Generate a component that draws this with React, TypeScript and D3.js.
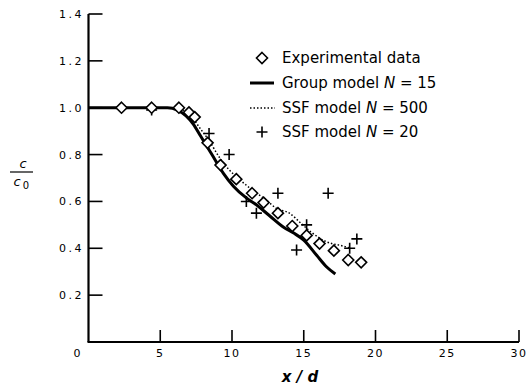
import React from "react";
import * as d3 from "d3";

const xTicks = [5, 10, 15, 20, 25, 30];
const xTickLabels = ["5", "10", "15", "20", "25", "30"];
const yTicks = [0.2, 0.4, 0.6, 0.8, 1.0, 1.2, 1.4];
const yTickLabels = ["0.2", "0.4", "0.6", "0.8", "1.0", "1.2", "1.4"];

const experimentalX = [2.3, 4.4, 6.3, 7.0, 7.4, 8.3, 9.2, 10.3, 11.4, 12.2, 13.2, 14.2, 15.2, 16.1, 17.1, 18.1, 19.0];
const experimentalY = [1.0, 1.0, 1.0, 0.98, 0.96, 0.85, 0.755, 0.695, 0.635, 0.595, 0.55, 0.495, 0.455, 0.42, 0.39, 0.35, 0.34];

const groupX = [0, 5.5, 6.2, 6.8, 7.3, 7.8, 8.6, 9.4, 10.1, 11.0, 11.6, 12.6, 13.6, 14.3, 15.0, 15.9, 16.6, 17.2];
const groupY = [1.0, 1.0, 0.99, 0.965, 0.93, 0.88, 0.8, 0.72, 0.665, 0.615, 0.59, 0.54, 0.49, 0.465, 0.435, 0.37, 0.32, 0.29];

const ssf500X = [0, 6.0, 6.6, 7.2, 7.8, 8.4, 9.1, 9.8, 10.5, 11.5, 12.4, 13.1, 14.0, 14.75, 15.5, 16.5, 17.7, 18.3];
const ssf500Y = [1.0, 1.0, 0.99, 0.96, 0.91, 0.86, 0.79, 0.735, 0.695, 0.645, 0.605, 0.57, 0.55, 0.51, 0.47, 0.43, 0.41, 0.4];

const ssf20X = [4.4, 6.3, 8.4, 9.8, 11.0, 11.7, 13.2, 14.5, 15.2, 16.7, 18.2, 18.7];
const ssf20Y = [0.99, 1.0, 0.89, 0.8, 0.6, 0.55, 0.635, 0.393, 0.5, 0.635, 0.4, 0.44];

const legendLabels = ["Experimental data", "Group model ", "SSF model ", "SSF model "];
const legendN = ["", "15", "500", "20"];

const W = 527;
const H = 385;

export default function App() {
  const x = d3.scaleLinear().domain([0, 30]).range([88.5, 519]);
  const y = d3.scaleLinear().domain([0, 1.4]).range([342, 14]);

  const line = d3
    .line<[number, number]>()
    .x((d) => x(d[0]))
    .y((d) => y(d[1]))
    .curve(d3.curveMonotoneX);

  const groupData = groupX.map((v, i) => [v, groupY[i]] as [number, number]);
  const ssfData = ssf500X.map((v, i) => [v, ssf500Y[i]] as [number, number]);

  const diamond = (cx: number, cy: number, r: number) =>
    `M${cx},${cy - r}L${cx + r},${cy}L${cx},${cy + r}L${cx - r},${cy}Z`;
  const cross = (cx: number, cy: number, r: number) =>
    `M${cx - r},${cy}L${cx + r},${cy}M${cx},${cy - r}L${cx},${cy + r}`;

  const font = "'DejaVu Sans', sans-serif";
  const legendY = [58, 83, 108, 132];
  const lx = 262;
  const tx = 282;

  return (
    <svg
      width={W}
      height={H}
      style={{ position: "absolute", left: 0, top: 0, background: "#fff" }}
      fontFamily={font}
    >
      {/* axes */}
      <line x1={x(0)} y1={y(0)} x2={x(0)} y2={y(1.4)} stroke="#000" strokeWidth={2.2} />
      <line x1={x(0) - 1} y1={y(0)} x2={x(30)} y2={y(0)} stroke="#000" strokeWidth={2.2} />
      {yTicks.map((t, i) => (
        <g key={"yt" + i}>
          <line x1={x(0)} x2={x(0) + 14} y1={y(t)} y2={y(t)} stroke="#000" strokeWidth={1.6} />
          <text
            x={84}
            y={y(t)}
            dy="0.36em"
            textAnchor="end"
            fontSize={11}
            letterSpacing={2.5}
            fill="#000"
          >
            {yTickLabels[i]}
          </text>
        </g>
      ))}
      <text x={77} y={353} dy="0.36em" textAnchor="middle" fontSize={11} fill="#000">
        0
      </text>
      {xTicks.map((t, i) => (
        <g key={"xt" + i}>
          <line x1={x(t)} x2={x(t)} y1={y(0)} y2={y(0) - 12} stroke="#000" strokeWidth={1.6} />
          <text
            x={x(t)}
            y={353}
            dy="0.36em"
            textAnchor="middle"
            fontSize={11}
            letterSpacing={1.5}
            fill="#000"
          >
            {xTickLabels[i]}
          </text>
        </g>
      ))}
      {/* axis titles */}
      <text x={300} y={382} textAnchor="middle" fontSize={15} fontStyle="italic" fontWeight="bold" fill="#000">
        x / d
      </text>
      <text x={23} y={168} textAnchor="middle" fontSize={13} fontStyle="italic" fill="#000">
        c
      </text>
      <line x1={10} x2={33} y1={172} y2={172} stroke="#000" strokeWidth={1.2} />
      <text x={17} y={186} textAnchor="middle" fontSize={13} fontStyle="italic" fill="#000">
        c
      </text>
      <text x={26} y={189} textAnchor="middle" fontSize={10} fill="#000">
        0
      </text>

      {/* series */}
      <path d={line(ssfData) || ""} fill="none" stroke="#000" strokeWidth={1.5} strokeDasharray="1.5,2" />
      <path d={line(groupData) || ""} fill="none" stroke="#000" strokeWidth={3} />
      {ssf20X.map((v, i) => (
        <path key={"c" + i} d={cross(x(v), y(ssf20Y[i]), 5.5)} stroke="#000" strokeWidth={1.6} fill="none" />
      ))}
      {experimentalX.map((v, i) => (
        <path
          key={"d" + i}
          d={diamond(x(v), y(experimentalY[i]), 5.5)}
          stroke="#000"
          strokeWidth={1.6}
          fill="#fff"
        />
      ))}

      {/* legend */}
      <path d={diamond(lx, legendY[0], 5.5)} stroke="#000" strokeWidth={1.6} fill="#fff" />
      <line x1={250} x2={274} y1={legendY[1]} y2={legendY[1]} stroke="#000" strokeWidth={3} />
      <line x1={250} x2={275} y1={legendY[2]} y2={legendY[2]} stroke="#000" strokeWidth={1.5} strokeDasharray="1.5,2" />
      <path d={cross(lx, legendY[3], 5.5)} stroke="#000" strokeWidth={1.6} fill="none" />
      {legendLabels.map((lab, i) => (
        <text key={"l" + i} x={tx} y={legendY[i]} dy="0.36em" fontSize={15} fill="#000">
          {lab}
          {legendN[i] && (
            <>
              <tspan fontStyle="italic">N</tspan>
              <tspan> = {legendN[i]}</tspan>
            </>
          )}
        </text>
      ))}
    </svg>
  );
}
